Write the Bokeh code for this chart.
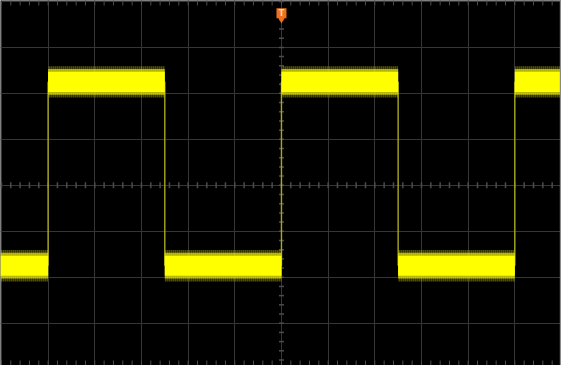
import numpy as np
from bokeh.plotting import figure
from bokeh.models import Range1d, FixedTicker, Span
from bokeh.core.properties import value
from bokeh.embed import file_html
from bokeh.resources import INLINE

# ---- data (units: divisions) ----
seg_bounds = [-6.02, -5.0, -2.5, 0.0, 2.5, 5.0, 6.0]     # segment boundaries (time)
seg_levels = [-1.75, 2.25, -1.75, 2.25, -1.75, 2.25]     # signal level per segment
edge_times = [-5.0, -2.5, 0.0, 2.5, 5.0]                 # transition instants
noise_core = 0.22      # half-width of the dense trace band
noise_mid = 0.28       # half-width of the frequent noise excursions
noise_peak = 0.34      # half-width of the rare noise peaks
trigger_time = [0.0]
trigger_mark_y = [3.74]

X0, X1 = -6.02, 6.0
Y0, Y1 = -3.92, 4.02

p = figure(width=561, height=365, x_range=Range1d(X0, X1), y_range=Range1d(Y0, Y1),
           output_backend="svg", toolbar_location=None, min_border=0)
p.background_fill_color = "#000000"
p.border_fill_color = "#000000"
p.outline_line_color = None
p.axis.visible = False
p.xgrid.ticker = FixedTicker(ticks=list(range(-6, 7)))
p.ygrid.ticker = FixedTicker(ticks=list(range(-4, 5)))
p.grid.grid_line_color = "#363636"
p.grid.grid_line_width = 1

# minor tick marks on centre lines and top/bottom edges
minor_x = np.round(np.arange(-6.0, 6.001, 0.2), 2)
minor_y = np.round(np.arange(-4.0, 4.001, 0.2), 2)
tick_col = "#4c4c4c"
p.scatter(x=minor_x, y=0, marker="dash", angle=np.pi / 2, size=6, line_color=tick_col, line_width=1.5)
p.scatter(x=0, y=minor_y, marker="dash", size=5, line_color=tick_col, line_width=1.5)
p.scatter(x=minor_x, y=Y1, marker="dash", angle=np.pi / 2, size=10, line_color=tick_col, line_width=1)
p.scatter(x=minor_x, y=Y0, marker="dash", angle=np.pi / 2, size=10, line_color=tick_col, line_width=1)

# right screen border
p.add_layout(Span(location=X1 - 0.02, dimension="height", line_color="#8a8a8a", line_width=1.5))

# square-wave trace
left = seg_bounds[:-1]
right = seg_bounds[1:]
lv = np.array(seg_levels)
p.segment(x0=edge_times, y0=seg_levels[:-1], x1=edge_times, y1=seg_levels[1:],
          line_color="#a8a820", line_width=1.4)
p.quad(left=left, right=right, bottom=lv - noise_peak, top=lv + noise_peak,
       fill_color="#c8c800", fill_alpha=0.25, line_color=None,
       hatch_pattern="vertical_line", hatch_color="#e0e000", hatch_alpha=0.35,
       hatch_scale=2, hatch_weight=1)
p.quad(left=left, right=right, bottom=lv - noise_mid, top=lv + noise_mid,
       fill_color="#e8e800", fill_alpha=0.7, line_color=None)
p.quad(left=left, right=right, bottom=lv - noise_core, top=lv + noise_core,
       fill_color="#ffff00", fill_alpha=1.0, line_color=None)

# trigger position marker
p.scatter(x=trigger_time, y=trigger_mark_y, marker="square", size=10,
          fill_color="#f0701e", line_color=None)
p.scatter(x=trigger_time, y=[trigger_mark_y[0] - 0.12], marker="inverted_triangle", size=8,
          fill_color="#f0701e", line_color=None)
p.text(x=trigger_time, y=trigger_mark_y, text=["T"], text_color="#ffd9a0",
       text_font=value("DejaVu Sans"), text_font_size="8px", text_font_style="bold",
       text_align="center", text_baseline="middle")

open("out.html", "w").write(file_html(p, INLINE))
